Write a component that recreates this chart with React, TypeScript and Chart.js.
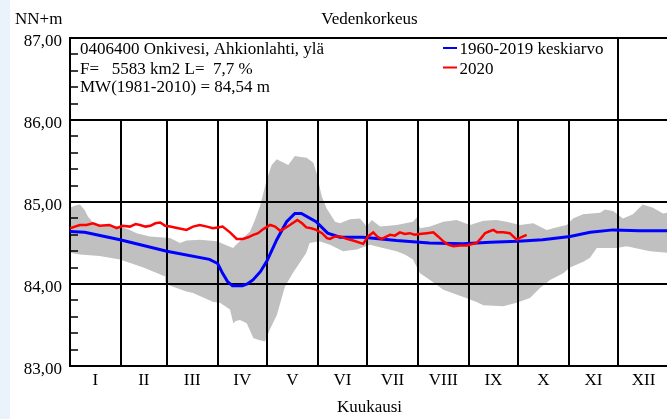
import React, { useEffect, useRef } from "react";
import { Chart, registerables } from "chart.js";

Chart.register(...registerables);

// ---- Data (day of year, water level NN+m) ----
const monthLabels = ["I", "II", "III", "IV", "V", "VI", "VII", "VIII", "IX", "X", "XI", "XII"];
const monthStarts = [0, 31, 59, 90, 120, 151, 181, 212, 243, 273, 304, 334, 365];
const yTicks = [83, 84, 85, 86, 87];

const meanDays = [0, 9, 30.5, 59, 85, 90, 93, 96, 99, 105, 108, 111.5, 116, 120, 126, 132, 137, 141, 150, 157, 164.5, 178.6, 199, 219, 239.5, 256, 273, 288, 304.7, 317, 331, 347, 364];
const meanLevels = [84.64, 84.63, 84.54, 84.40, 84.30, 84.25, 84.13, 84.03, 83.98, 83.98, 84.0, 84.05, 84.15, 84.28, 84.54, 84.76, 84.86, 84.86, 84.76, 84.62, 84.57, 84.57, 84.53, 84.50, 84.49, 84.51, 84.52, 84.54, 84.58, 84.63, 84.66, 84.65, 84.65];

const days2020 = [0, 3, 6, 10, 14, 18, 24, 28.5, 32, 36.5, 40, 42.7, 46, 49, 52, 55, 58, 61, 66, 71, 75, 79, 83.5, 87, 90, 93, 97.5, 101.6, 105.4, 108.5, 111.7, 114.6, 117.8, 122, 125, 128, 131, 134, 138.5, 141.4, 144, 147, 150, 153.6, 156.6, 158.4, 161.5, 164.5, 168.6, 172.5, 178.7, 181.6, 184.8, 187.7, 190, 195, 198, 201, 204, 207, 210, 213, 217.5, 221.4, 224.3, 227.5, 230.4, 233.6, 237.7, 241.7, 247.8, 250.5, 252.9, 255.3, 258, 260.2, 264, 268, 272.2, 274.8, 278.3];
const levels2020 = [84.68, 84.70, 84.72, 84.72, 84.74, 84.71, 84.72, 84.68, 84.71, 84.70, 84.73, 84.72, 84.70, 84.71, 84.74, 84.75, 84.71, 84.70, 84.68, 84.66, 84.70, 84.72, 84.70, 84.68, 84.69, 84.70, 84.63, 84.55, 84.55, 84.57, 84.60, 84.62, 84.67, 84.72, 84.70, 84.65, 84.68, 84.72, 84.78, 84.74, 84.69, 84.68, 84.66, 84.62, 84.56, 84.55, 84.58, 84.58, 84.55, 84.53, 84.49, 84.58, 84.63, 84.57, 84.55, 84.60, 84.59, 84.63, 84.61, 84.62, 84.60, 84.61, 84.62, 84.63, 84.58, 84.52, 84.48, 84.46, 84.47, 84.47, 84.50, 84.56, 84.62, 84.64, 84.66, 84.63, 84.63, 84.62, 84.54, 84.57, 84.60];

const maxDays = [0, 3.7, 6, 9, 11, 14, 18, 30.5, 36.5, 40.6, 48.7, 61, 67, 71, 79, 89.6, 94.5, 99.3, 105.4, 109.7, 112.7, 115.8, 119.9, 122.9, 126, 129, 133, 137, 140.8, 144.2, 148.3, 150.3, 153.4, 156.4, 158.4, 161.5, 164.5, 170.6, 176.7, 180.8, 183.9, 189, 199, 209, 211.3, 213.3, 219.4, 227.5, 235.6, 243.8, 251.9, 260, 266, 274.2, 282.3, 290.5, 298.6, 302.7, 306.5, 312.6, 323, 326, 330.9, 337, 343, 349, 355.3, 361.4, 364];
const maxLevels = [84.93, 84.96, 84.97, 84.90, 84.82, 84.75, 84.72, 84.70, 84.66, 84.62, 84.58, 84.56, 84.50, 84.53, 84.54, 84.52, 84.48, 84.44, 84.56, 84.64, 84.78, 84.95, 85.27, 85.45, 85.52, 85.49, 85.45, 85.56, 85.55, 85.54, 85.48, 85.35, 85.07, 84.92, 84.86, 84.76, 84.74, 84.79, 84.80, 84.70, 84.78, 84.70, 84.72, 84.76, 84.81, 84.68, 84.70, 84.76, 84.78, 84.72, 84.77, 84.78, 84.76, 84.72, 84.74, 84.66, 84.70, 84.72, 84.80, 84.85, 84.87, 84.91, 84.89, 84.80, 84.85, 84.97, 84.93, 84.86, 84.87];

const minDays = [0, 6, 18, 30.5, 44.7, 58, 58.5, 61, 71, 75, 87.3, 91.4, 97.5, 99.5, 101, 103.6, 107.7, 111.7, 114.6, 118.8, 121.9, 126, 131, 136, 140, 144, 146, 152, 158.4, 166.4, 174.7, 182.8, 190.7, 199, 204, 209, 213.3, 219.4, 227.5, 239.7, 247.8, 251.9, 264, 272.2, 280.3, 286.4, 292.5, 300.6, 304.7, 312.8, 316.9, 321, 333, 339.2, 353.4, 364];
const minLevels = [84.38, 84.36, 84.34, 84.30, 84.20, 84.09, 84.02, 83.98, 83.91, 83.89, 83.78, 83.77, 83.69, 83.52, 83.55, 83.56, 83.52, 83.34, 83.32, 83.30, 83.45, 83.62, 83.97, 84.14, 84.26, 84.38, 84.50, 84.52, 84.48, 84.40, 84.42, 84.48, 84.44, 84.40, 84.36, 84.30, 84.13, 84.05, 83.93, 83.84, 83.78, 83.74, 83.73, 83.77, 83.83, 83.95, 84.05, 84.13, 84.20, 84.27, 84.32, 84.44, 84.44, 84.46, 84.40, 84.38];

const titleText = "Vedenkorkeus";
const yAxisTitle = "NN+m";
const xAxisTitle = "Kuukausi";
const infoLines = ["0406400 Onkivesi, Ahkionlahti, ylä", "F=   5583 km2 L=  7,7 %", "MW(1981-2010) = 84,54 m"];
const legendLabels = ["1960-2019 keskiarvo", "2020"];

const FONT = '17px "Liberation Serif", "Times New Roman", serif';
const fmt = (v: number) => v.toFixed(2).replace(".", ",");
const pts = (xs: number[], ys: number[]) => xs.map((x, i) => ({ x, y: ys[i] }));

export default function App() {
  const ref = useRef<HTMLCanvasElement>(null);

  useEffect(() => {
    if (!ref.current) return;

    const bgPlugin = {
      id: "bg",
      beforeDraw(chart: any) {
        const c = chart.ctx;
        c.save();
        c.fillStyle = "#ffffff";
        c.fillRect(0, 0, chart.width, chart.height);
        c.fillStyle = "#eaf2fb";
        c.fillRect(0, 0, 10, chart.height);
        c.restore();
      },
    };

    const gridPlugin = {
      id: "grid",
      beforeDatasetsDraw(chart: any) {
        const c = chart.ctx;
        const xs = chart.scales.x;
        const ys = chart.scales.y;
        const left = Math.round(xs.getPixelForValue(0));
        const right = chart.width;
        const yTop = Math.round(ys.getPixelForValue(87));
        const y86 = Math.round(ys.getPixelForValue(86));
        const yBot = Math.round(ys.getPixelForValue(83));
        c.save();
        c.strokeStyle = "#000";
        c.lineWidth = 2;
        c.beginPath();
        for (const v of yTicks) {
          const y = Math.round(ys.getPixelForValue(v));
          c.moveTo(left, y);
          c.lineTo(right, y);
        }
        c.moveTo(left, yTop - 1);
        c.lineTo(left, yBot + 1);
        for (let i = 1; i < 12; i++) {
          const x = Math.round(xs.getPixelForValue(monthStarts[i]));
          c.moveTo(x, i === 11 ? yTop : y86);
          c.lineTo(x, yBot);
        }
        c.stroke();
        // minor ticks
        c.lineWidth = 1.5;
        c.beginPath();
        for (let v = 83; v < 87; v += 1) {
          for (let k = 1; k < 5; k++) {
            const y = Math.round(ys.getPixelForValue(v + k * 0.2));
            c.moveTo(left, y);
            c.lineTo(left + 8, y);
          }
        }
        c.stroke();
        c.restore();
      },
      afterDraw(chart: any) {
        const c = chart.ctx;
        const xs = chart.scales.x;
        const ys = chart.scales.y;
        c.save();
        c.fillStyle = "#000";
        c.font = FONT;
        c.textBaseline = "alphabetic";
        c.textAlign = "center";
        c.fillText(titleText, 369.5, 24);
        c.fillText(xAxisTitle, 369.5, 412);
        for (let i = 0; i < 12; i++) {
          const mid = (monthStarts[i] + monthStarts[i + 1]) / 2;
          c.fillText(monthLabels[i], xs.getPixelForValue(mid), 385);
        }
        c.textAlign = "left";
        c.fillText(yAxisTitle, 15, 24);
        c.textAlign = "right";
        for (const v of yTicks) {
          c.fillText(fmt(v), 62, ys.getPixelForValue(v) + 8);
        }
        c.textAlign = "left";
        const base = [54, 73.5, 92];
        infoLines.forEach((t, i) => c.fillText(t, 80, base[i]));
        // legend
        const colors = ["#0000ff", "#ff0000"];
        legendLabels.forEach((t, i) => {
          c.strokeStyle = colors[i];
          c.lineWidth = 2;
          c.beginPath();
          c.moveTo(443, base[i] - 6);
          c.lineTo(457, base[i] - 6);
          c.stroke();
          c.fillText(t, 459.5, base[i]);
        });
        c.restore();
      },
    };

    const chart = new Chart(ref.current, {
      type: "line",
      data: {
        datasets: [
          {
            label: "2020",
            data: pts(days2020, levels2020),
            borderColor: "#ff0000",
            borderWidth: 2.5,
            pointRadius: 0,
            fill: false,
            tension: 0,
          },
          {
            label: "1960-2019 keskiarvo",
            data: pts(meanDays, meanLevels),
            borderColor: "#0000ff",
            borderWidth: 3,
            pointRadius: 0,
            fill: false,
            tension: 0,
          },
          {
            label: "max",
            data: pts(maxDays, maxLevels),
            borderWidth: 0,
            borderColor: "rgba(0,0,0,0)",
            backgroundColor: "#c0c0c0",
            pointRadius: 0,
            fill: "+1",
            tension: 0,
          },
          {
            label: "min",
            data: pts(minDays, minLevels),
            borderWidth: 0,
            borderColor: "rgba(0,0,0,0)",
            backgroundColor: "#c0c0c0",
            pointRadius: 0,
            fill: false,
            tension: 0,
          },
        ],
      },
      options: {
        responsive: false,
        animation: false,
        layout: { padding: { left: 70, top: 38, right: 0, bottom: 53 } },
        scales: {
          x: { type: "linear", min: 0, max: 363.8, display: false },
          y: { type: "linear", min: 83, max: 87, display: false },
        },
        plugins: {
          legend: { display: false },
          title: { display: false },
          tooltip: { enabled: false },
          filler: { drawTime: "beforeDatasetsDraw" },
        } as any,
      },
      plugins: [bgPlugin, gridPlugin],
    });
    return () => chart.destroy();
  }, []);

  return (
    <canvas
      ref={ref}
      width={667}
      height={419}
      style={{ position: "fixed", left: 0, top: 0, width: 667, height: 419 }}
    />
  );
}
